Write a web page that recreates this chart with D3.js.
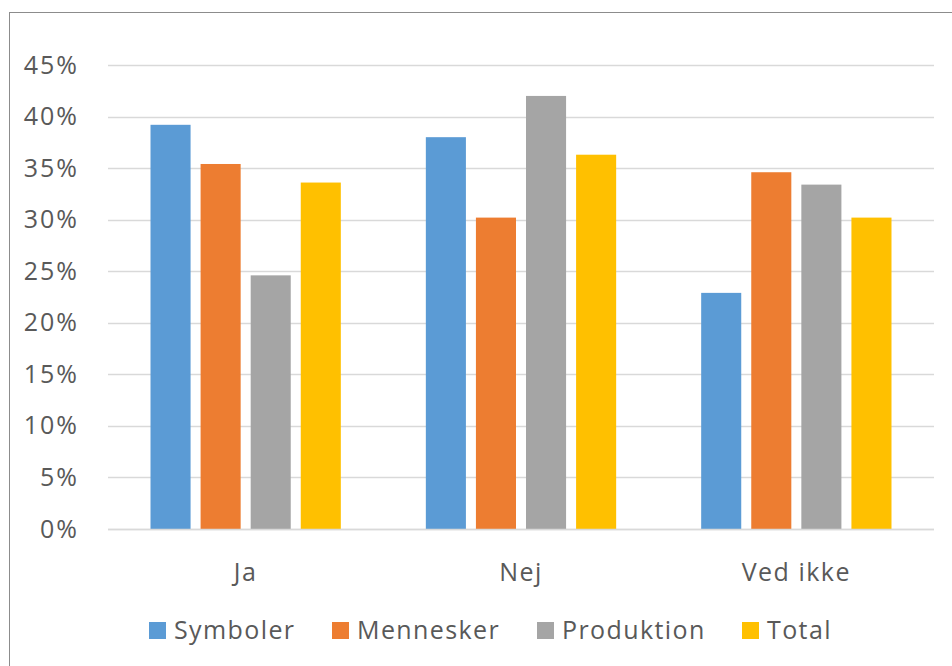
<!DOCTYPE html>
<html>
<head>
<meta charset="utf-8">
<script src="https://cdn.jsdelivr.net/npm/d3@7"></script>
<style>
  html, body { margin: 0; padding: 0; background: #fff; }
  svg { display: block; }
  text { font-family: "Open Sans", "Noto Sans", sans-serif; fill: #595959; }
</style>
</head>
<body>
<svg id="chart" width="952" height="666"></svg>
<script>
// Answer categories and the share of respondents per group
const categories = ["Ja", "Nej", "Ved ikke"];
const seriesNames = ["Symboler", "Mennesker", "Produktion", "Total"];
const symboler   = [39.2, 38.0, 22.9];
const mennesker  = [35.4, 30.2, 34.6];
const produktion = [24.6, 42.0, 33.4];
const total      = [33.6, 36.3, 30.2];
const yTicks = [0, 5, 10, 15, 20, 25, 30, 35, 40, 45];
const colors = ["#5B9BD5", "#ED7D31", "#A5A5A5", "#FFC000"];

const seriesValues = [symboler, mennesker, produktion, total];

const svg = d3.select("#chart");

// outer chart frame
svg.append("rect")
  .attr("x", 9.5).attr("y", 12.5)
  .attr("width", 1000).attr("height", 700)
  .attr("fill", "none").attr("stroke", "#8c8c8c").attr("stroke-width", 1);

const plot = { left: 108, right: 934, top: 65, bottom: 529 };

const y = d3.scaleLinear().domain([0, 45]).range([plot.bottom, plot.top]);
const x0 = d3.scaleBand().domain(categories).range([plot.left, plot.right]).padding(0);
const x1 = d3.scaleBand().domain(seriesNames)
  .range([37.5, x0.bandwidth() - 37.5])
  .paddingInner(0.2).paddingOuter(0.1);

// gridlines
svg.append("g")
  .selectAll("line")
  .data(yTicks)
  .join("line")
  .attr("x1", plot.left).attr("x2", plot.right)
  .attr("y1", d => Math.round(y(d)) + 0.5).attr("y2", d => Math.round(y(d)) + 0.5)
  .attr("stroke", "#d9d9d9").attr("stroke-width", 1.5);

// y axis labels
const yAxis = d3.axisLeft(y).tickValues(yTicks).tickFormat(d => d + "%").tickSize(0).tickPadding(0);
const yg = svg.append("g").attr("transform", `translate(79,0)`).call(yAxis);
yg.select(".domain").remove();
yg.selectAll("text")
  .style("font-family", '"Open Sans", sans-serif')
  .style("font-size", "25px").style("letter-spacing", "2px")
  .attr("fill", "#595959");

// bars
const groups = svg.append("g")
  .selectAll("g")
  .data(categories)
  .join("g")
  .attr("transform", c => `translate(${x0(c)},0)`);

groups.selectAll("rect")
  .data((c, i) => seriesNames.map((s, j) => ({ s, v: seriesValues[j][i], j })))
  .join("rect")
  .attr("x", d => x1(d.s))
  .attr("width", x1.bandwidth())
  .attr("y", d => y(d.v))
  .attr("height", d => y(0) - y(d.v))
  .attr("fill", d => colors[d.j]);

// baseline
svg.append("line")
  .attr("x1", plot.left).attr("x2", plot.right)
  .attr("y1", y(0) + 0.5).attr("y2", y(0) + 0.5)
  .attr("stroke", "#d9d9d9").attr("stroke-width", 1.5);

// category axis labels
const xAxis = d3.axisBottom(x0).tickSize(0).tickPadding(0);
const xg = svg.append("g").attr("transform", `translate(0,${y(0) + 34})`).call(xAxis);
xg.select(".domain").remove();
xg.selectAll("text")
  .style("font-family", '"Open Sans", sans-serif')
  .style("font-size", "25px").style("letter-spacing", "1.5px")
  .attr("fill", "#595959");

// legend
const legendX = [149, 332, 537, 742];
const legend = svg.append("g")
  .selectAll("g")
  .data(seriesNames)
  .join("g")
  .attr("transform", (d, i) => `translate(${legendX[i]},622)`);
legend.append("rect")
  .attr("width", 17).attr("height", 17)
  .attr("fill", (d, i) => colors[i]);
legend.append("text")
  .attr("x", 25).attr("y", 17)
  .style("font-size", "25px").style("letter-spacing", "1.4px")
  .text(d => d);
</script>
</body>
</html>
